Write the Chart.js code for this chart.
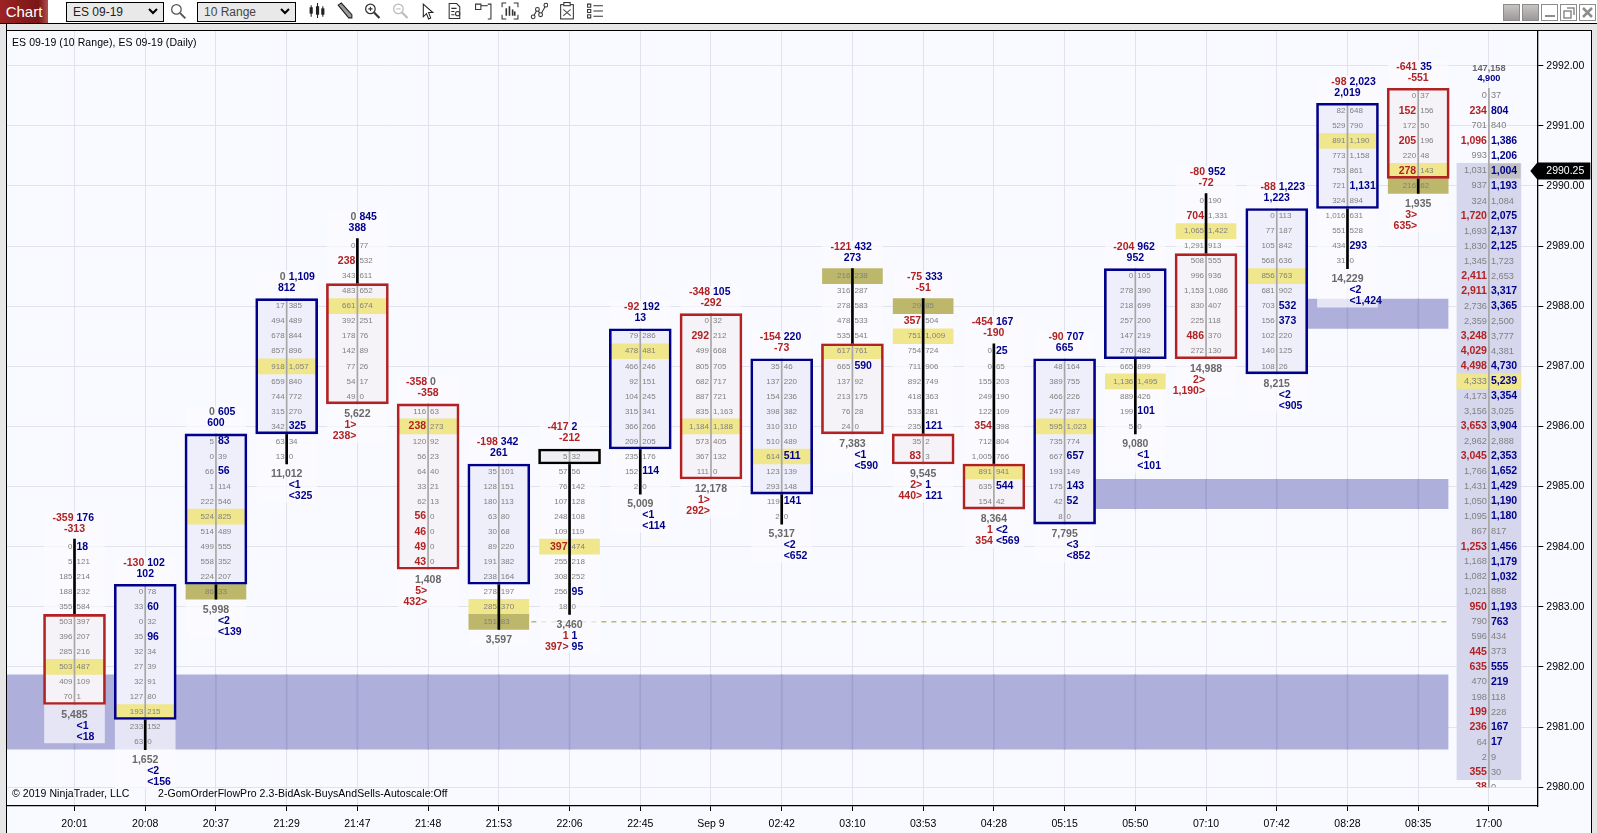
<!DOCTYPE html>
<html>
<head>
<meta charset="utf-8">
<title>ES 09-19 order flow</title>
<script src="https://cdn.jsdelivr.net/npm/chart.js@4/dist/chart.umd.min.js"></script>
<style>
    html, body { margin: 0; padding: 0; width: 1597px; height: 833px; overflow: hidden; background: #f9faff; font-family: "Liberation Sans", Arial, sans-serif; }
    canvas { position: absolute; left: 0; top: 0; }
    .abs { position: absolute; }
    #toolbar { left: 0; top: 0; width: 1597px; height: 23px; background: #fff; border-bottom: 1px solid #000; }
    #strip { left: 0; top: 24px; width: 1597px; height: 6px; background: #e6e6e6; border-bottom: 1px solid #000; }
    #leftStrip { left: 0; top: 24px; width: 6px; height: 809px; background: #e6e6e6; border-right: 1px solid #000; }
    #rightStrip { left: 1591px; top: 30px; width: 5px; height: 803px; background: #e6e6e6; border-left: 1px solid #000; }
    #chartBtn { left: 0; top: 0; width: 48px; height: 23px; background: linear-gradient(90deg, #9c2424, #7a1616 80%, #b05050); color: #fff; font-size: 15px; line-height: 23px; text-align: center; }
    .sel { top: 2px; height: 18px; background: #e9e9e9; border: 1px solid #000; font-size: 12px; line-height: 18px; padding-left: 6px; color: #333; box-sizing: content-box; }
    .sel svg { position: absolute; right: 5px; top: 5px; }
    .icon { top: 2px; width: 18px; height: 18px; }
    .winBtn { top: 4px; width: 15px; height: 15px; border: 1px solid #8c8c8c; box-sizing: content-box; }
    .label { font-size: 10.5px; color: #000; white-space: nowrap; line-height: 12px; letter-spacing: 0.07px; }
</style>
</head>
<body>
<canvas id="flowChart" width="1597" height="833"></canvas>
<div class="abs" id="strip"></div>
<div class="abs" id="leftStrip"></div>
<div class="abs" id="rightStrip"></div>
<div class="abs" id="toolbar">
    <div class="abs" id="chartBtn">Chart</div>
    <div class="abs sel" style="left:66px;width:90px;color:#222">ES 09-19<svg width="10" height="7"><path d="M1 1l4 4 4-4" fill="none" stroke="#000" stroke-width="2"/></svg></div>
    <svg class="abs icon" style="left:169px" viewBox="0 0 17 17"><circle cx="7" cy="7" r="4.5" fill="none" stroke="#555" stroke-width="1.2"/><path d="M10.5 10.5l5 5" stroke="#555" stroke-width="1.8"/></svg>
    <div class="abs sel" style="left:197px;width:91px;color:#444">10 Range<svg width="10" height="7"><path d="M1 1l4 4 4-4" fill="none" stroke="#000" stroke-width="2"/></svg></div>
    <svg class="abs icon" style="left:308px" viewBox="0 0 17 17"><path d="M3 3v11M9 1v14M14 4v10" stroke="#222" stroke-width="1"/><rect x="1.5" y="5" width="3" height="6" fill="#222"/><rect x="7.5" y="4" width="3" height="8" fill="#222"/><rect x="12.5" y="6" width="3" height="6" fill="#222"/></svg>
    <svg class="abs icon" style="left:336px" viewBox="0 0 17 17"><path d="M2 3l3-2 10 11 0 3-3 0z" fill="#999" stroke="#222" stroke-width="1"/></svg>
    <svg class="abs icon" style="left:363px" viewBox="0 0 17 17"><circle cx="7" cy="6.5" r="4.5" fill="none" stroke="#333" stroke-width="1.2"/><path d="M5 6.5h4M7 4.5v4" stroke="#333"/><path d="M10.5 10l5 5" stroke="#333" stroke-width="2"/></svg>
    <svg class="abs icon" style="left:391px" viewBox="0 0 17 17"><circle cx="7" cy="6.5" r="4.5" fill="none" stroke="#bbb" stroke-width="1.2"/><path d="M5 6.5h4" stroke="#bbb"/><path d="M10.5 10l5 5" stroke="#bbb" stroke-width="2"/></svg>
    <svg class="abs icon" style="left:418px" viewBox="0 0 17 17"><path d="M5 2v12l3-3 2 5 2-1-2-5h4z" fill="#fff" stroke="#222"/></svg>
    <svg class="abs icon" style="left:446px" viewBox="0 0 17 17"><path d="M3 1.5h7l3 3v11h-10z" fill="none" stroke="#333"/><path d="M5 6h5M5 9h3M5 12h3" stroke="#333"/><circle cx="11" cy="11" r="2" fill="none" stroke="#333"/></svg>
    <svg class="abs icon" style="left:474px" viewBox="0 0 17 17"><path d="M1.5 2h5v5h-5zM13 2h3v14h-3" fill="none" stroke="#333"/><path d="M6.5 3.5h6.5" stroke="#333"/></svg>
    <svg class="abs icon" style="left:501px" viewBox="0 0 17 17"><path d="M1 5V1h4M12 1h4v4M16 12v4h-4M5 16H1v-4" fill="none" stroke="#333"/><path d="M5 6v7M8 4v9M11 7v6M13 9v4" stroke="#333" stroke-width="1.5"/></svg>
    <svg class="abs icon" style="left:530px" viewBox="0 0 17 17"><path d="M3 14L7 7l3 5 5-9" fill="none" stroke="#333"/><circle cx="3" cy="14" r="1.8" fill="#fff" stroke="#333"/><circle cx="7" cy="7" r="1.8" fill="#fff" stroke="#333"/><circle cx="10" cy="12" r="1.8" fill="#fff" stroke="#333"/><circle cx="15" cy="3" r="1.8" fill="#fff" stroke="#333"/></svg>
    <svg class="abs icon" style="left:558px" viewBox="0 0 17 17"><rect x="2.5" y="2.5" width="12" height="13.5" fill="none" stroke="#333"/><rect x="5.5" y="0.5" width="6" height="3" fill="#fff" stroke="#333"/><path d="M5 7l7 6M12 7l-7 6" stroke="#555"/></svg>
    <svg class="abs icon" style="left:586px" viewBox="0 0 17 17"><path d="M1.5 2h3v3h-3zM1.5 7h3v3h-3zM1.5 12h3v3h-3z" fill="none" stroke="#333"/><path d="M7 3.5h9M7 8.5h9M7 13.5h9" stroke="#333"/></svg>
    <div class="abs winBtn" style="left:1503px;background:linear-gradient(#c8c4c4,#9c9898)"></div>
    <div class="abs winBtn" style="left:1522px;background:linear-gradient(#c8c4c4,#9c9898)"></div>
    <div class="abs winBtn" style="left:1541px;background:#fff"><svg width="15" height="15"><path d="M3 11h10" stroke="#8c8c8c" stroke-width="2"/></svg></div>
    <div class="abs winBtn" style="left:1560px;background:#fff"><svg width="15" height="15"><path d="M3 6h7v7h-7zM6 3h7v7" fill="none" stroke="#8c8c8c" stroke-width="1.5"/></svg></div>
    <div class="abs winBtn" style="left:1579px;background:#fff"><svg width="15" height="15"><path d="M3 3l9 9M12 3l-9 9" stroke="#8c8c8c" stroke-width="2.5"/></svg></div>
</div>
<div class="abs label" style="left:12px;top:36px">ES 09-19 (10 Range), ES 09-19 (Daily)</div>
<div class="abs label" style="left:12px;top:787px">© 2019 NinjaTrader, LLC</div>
<div class="abs label" style="left:158px;top:787px">2-GomOrderFlowPro 2.3-BidAsk-BuysAndSells-Autoscale:Off</div>

<script>
// Axis labels
const times = ['20:01', '20:08', '20:37', '21:29', '21:47', '21:48', '21:53', '22:06', '22:45', 'Sep 9',
    '02:42', '03:10', '03:53', '04:28', '05:15', '05:50', '07:10', '07:42', '08:28', '08:35', '17:00'];
const priceTicks = [2980, 2981, 2982, 2983, 2984, 2985, 2986, 2987, 2988, 2989, 2990, 2991, 2992];

// Candle prices, one entry per range bar
const barHigh = [2984, 2983.25, 2985.75, 2988, 2989, 2986.25, 2985.25, 2985.5, 2987.5, 2987.75,
    2987, 2988.5, 2988, 2987.25, 2987, 2988.5, 2989.75, 2989.5, 2991.25, 2991.5];
const bodyHigh = [2982.75, 2983.25, 2985.75, 2988, 2988.25, 2986.25, 2985.25, 2985.5, 2987.5, 2987.75,
    2987, 2987.25, 2985.75, 2985.25, 2987, 2988.5, 2988.75, 2989.5, 2991.25, 2991.5];
const bodyLow = [2981.5, 2981.25, 2983.5, 2986, 2986.5, 2983.75, 2983.5, 2985.5, 2985.75, 2985.25,
    2985, 2986, 2985.5, 2984.75, 2984.5, 2987.25, 2987.25, 2987, 2989.75, 2990.25];
const barKind = ['down', 'up', 'up', 'up', 'down', 'down', 'up', 'flat', 'up', 'down',
    'up', 'down', 'down', 'down', 'up', 'up', 'down', 'up', 'up', 'down'];
const oliveRow = [null, null, 10, null, null, null, 10, null, null, null,
    null, 0, 0, null, null, null, null, null, null, 6];

// Bid / ask volume per price row, top row first
const bids00 = [0, 5, 185, 188, 355, 503, 396, 285, 503, 409, 70];
const asks00 = [18, 121, 214, 232, 584, 397, 207, 216, 487, 109, 1];
const bids01 = [0, 33, 0, 35, 32, 27, 32, 127, 193, 233, 63];
const asks01 = [78, 60, 32, 96, 34, 39, 91, 80, 215, 152, 0];
const bids02 = [5, 0, 66, 1, 222, 524, 514, 499, 558, 224, 86];
const asks02 = [83, 39, 56, 114, 546, 825, 489, 555, 352, 207, 33];
const bids03 = [17, 494, 678, 857, 918, 659, 744, 315, 342, 63, 13];
const asks03 = [385, 489, 844, 896, 1057, 840, 772, 270, 325, 34, 0];
const bids04 = [0, 238, 343, 483, 661, 392, 178, 142, 77, 54, 49];
const asks04 = [77, 532, 611, 652, 674, 251, 76, 89, 26, 17, 0];
const bids05 = [116, 238, 120, 56, 64, 33, 62, 56, 46, 49, 43];
const asks05 = [63, 273, 92, 23, 40, 21, 13, 0, 0, 0, 0];
const bids06 = [35, 128, 180, 63, 30, 89, 191, 238, 278, 285, 151];
const asks06 = [101, 151, 113, 80, 68, 220, 382, 164, 197, 370, 83];
const bids07 = [5, 57, 76, 107, 248, 109, 397, 255, 308, 256, 18];
const asks07 = [32, 56, 142, 128, 108, 119, 474, 218, 252, 95, 0];
const bids08 = [79, 478, 466, 92, 104, 315, 366, 209, 235, 152, 2];
const asks08 = [286, 481, 246, 151, 245, 341, 266, 205, 176, 114, 0];
const bids09 = [0, 292, 499, 805, 682, 887, 835, 1184, 573, 367, 111];
const asks09 = [32, 212, 668, 705, 717, 721, 1163, 1188, 405, 132, 0];
const bids10 = [35, 137, 154, 398, 310, 510, 614, 123, 293, 119, 2];
const asks10 = [46, 220, 236, 382, 310, 489, 511, 139, 148, 141, 0];
const bids11 = [216, 316, 278, 478, 535, 617, 665, 137, 213, 76, 24];
const asks11 = [238, 287, 583, 533, 541, 761, 590, 92, 175, 28, 0];
const bids12 = [29, 357, 751, 754, 711, 892, 418, 533, 235, 35, 83];
const asks12 = [85, 504, 1009, 724, 906, 749, 363, 281, 121, 2, 3];
const bids13 = [0, 0, 155, 249, 122, 354, 712, 1005, 891, 635, 154];
const asks13 = [25, 65, 203, 190, 109, 398, 804, 766, 941, 544, 42];
const bids14 = [48, 389, 466, 247, 595, 735, 667, 193, 175, 42, 8];
const asks14 = [164, 755, 226, 287, 1023, 774, 657, 149, 143, 52, 0];
const bids15 = [0, 278, 218, 257, 147, 270, 665, 1136, 889, 199, 5];
const asks15 = [105, 390, 699, 200, 219, 482, 899, 1495, 426, 101, 0];
const bids16 = [0, 704, 1065, 1291, 508, 996, 1153, 830, 225, 486, 272];
const asks16 = [190, 1331, 1422, 913, 555, 936, 1086, 407, 118, 370, 130];
const bids17 = [0, 77, 105, 568, 856, 681, 703, 156, 102, 140, 108];
const asks17 = [113, 187, 842, 636, 763, 902, 532, 373, 220, 125, 26];
const bids18 = [82, 529, 891, 773, 753, 721, 324, 1016, 551, 434, 31];
const asks18 = [648, 790, 1190, 1158, 861, 1131, 894, 631, 528, 293, 0];
const bids19 = [0, 152, 172, 205, 220, 278, 216];
const asks19 = [37, 156, 50, 196, 48, 143, 62];

// Bar statistics
const deltaMin = [-359, -130, 0, 0, 0, -358, -198, -417, -92, -348, -154, -121, -75, -454, -90, -204, -80, -88, -98, -641];
const deltaMax = [176, 102, 605, 1109, 845, 0, 342, 2, 192, 105, 220, 432, 333, 167, 707, 962, 952, 1223, 2023, 35];
const deltaEnd = [-313, 102, 600, 812, 388, -358, 261, -212, 13, -292, -73, 273, -51, -190, 665, 952, -72, 1223, 2019, -551];
const volumes = [5485, 1652, 5998, 11012, 5622, 1408, 3597, 3460, 5009, 12178, 5317, 7383, 9545, 8364, 7795, 9080, 14988, 8215, 14229, 1935];
const sellCount = ['', '', '', '', '1>', '5>', '', '1', '', '1>', '', '', '2>', '1', '', '', '2>', '', '', '3>'];
const sellSum = ['', '', '', '', '238>', '432>', '', '397>', '', '292>', '', '', '440>', '354', '', '', '1,190>', '', '', '635>'];
const buyCount = ['<1', '<2', '<2', '<1', '', '', '', '1', '<1', '', '<2', '<1', '1', '<2', '<3', '<1', '', '<2', '<2', ''];
const buySum = ['<18', '<156', '<139', '<325', '', '', '', '95', '<114', '', '<652', '<590', '121', '<569', '<852', '<101', '', '<905', '<1,424', ''];

// Daily profile column (17:00)
const profileHigh = 2991.5;
const profileBids = [0, 234, 701, 1096, 993, 1031, 937, 324, 1720, 1693, 1830, 1345, 2411, 2911, 2736, 2359,
    3248, 4029, 4498, 4333, 4173, 3156, 3653, 2962, 3045, 1766, 1431, 1050, 1095, 867, 1253, 1168,
    1082, 1021, 950, 790, 596, 445, 635, 470, 198, 199, 236, 64, 2, 355, 38];
const profileAsks = [37, 804, 840, 1386, 1206, 1004, 1193, 1084, 2075, 2137, 2125, 1723, 2653, 3317, 3365, 2500,
    3777, 4381, 4730, 5239, 3354, 3025, 3904, 2888, 2353, 1652, 1429, 1190, 1180, 817, 1456, 1179,
    1032, 888, 1193, 763, 434, 373, 555, 219, 118, 228, 167, 17, 9, 30, 0];
const profileVolume = 147158;
const profileDelta = 4900;
const valueAreaHigh = 2990.375;
const valueAreaLow = 2980.125;
const lastPrice = 2990.25;

// Supply / demand zones and the unfinished level
const zoneHigh = [2981.875, 2985.125, 2988.125];
const zoneLow = [2980.625, 2984.625, 2987.625];
const zoneStart = [-0.9615, 14, 17];
const zoneEnd = 19.43;
const levelPrice = 2982.75;
const levelStart = 6.46;
const levelEnd = 19.41;

const allBids = [bids00, bids01, bids02, bids03, bids04, bids05, bids06, bids07, bids08, bids09,
    bids10, bids11, bids12, bids13, bids14, bids15, bids16, bids17, bids18, bids19];
const allAsks = [asks00, asks01, asks02, asks03, asks04, asks05, asks06, asks07, asks08, asks09,
    asks10, asks11, asks12, asks13, asks14, asks15, asks16, asks17, asks18, asks19];

const TICK = 0.25;
const PX_PER_POINT = 60.12;
const PROFILE_X = 20;
const RED = '#b22222';
const BLUE = '#00008b';
const GREY = '#808080';
const DIM = '#696969';
const YELLOW = '#f0e68c';
const OLIVE = '#bdb76b';
const FONT = '"Liberation Sans", Arial, sans-serif';

const boxLine = { up: BLUE, down: RED, flat: '#000000' };
const boxFill = { up: '#eeeffa', down: '#f5f2f8', flat: '#f0f0f4' };

const fmt = v => v.toLocaleString('en-US');
const rowPrice = (i, r) => barHigh[i] - r * TICK;
const lowOf = i => rowPrice(i, allBids[i].length - 1);
const edgeHigh = p => p + TICK / 2;
const edgeLow = p => p - TICK / 2;

// Row with the largest traded volume
function pocRow(bids, asks) {
    let best = 0;
    bids.forEach((b, r) => { if (b + asks[r] > bids[best] + asks[best]) best = r; });
    return best;
}

function rangeBars(order, width, points, extra) {
    return Object.assign({
        type: 'bar', order, data: points, grouped: false, barPercentage: 1, categoryPercentage: 1,
        maxBarThickness: width, borderWidth: 0, borderSkipped: false
    }, extra);
}

function band(order, x0, x1, high, low, color) {
    return {
        type: 'line', order, data: [{ x: x0, y: high }, { x: x1, y: high }],
        fill: { value: low }, backgroundColor: color, borderWidth: 0, pointRadius: 0
    };
}

const barIdx = barHigh.map((_, i) => i);

const datasets = [];
zoneHigh.forEach((h, z) => {
    datasets.push(band(100, zoneStart[z], zoneEnd, h, zoneLow[z], '#afafdc'));
    // Vertical grid stays visible through the zone
    const inside = times.map((_, i) => i).filter(i => i >= zoneStart[z] && i <= zoneEnd);
    datasets.push(rangeBars(98, 1, inside.map(i => ({ x: i, y: [h, zoneLow[z]] })), { backgroundColor: 'rgba(110,110,175,0.22)' }));
});
datasets.push({
    type: 'line', order: 95, data: [{ x: levelStart, y: levelPrice }, { x: levelEnd, y: levelPrice }],
    borderColor: OLIVE, borderWidth: 1.6, borderDash: [5, 5], pointRadius: 0, fill: false
});
// Text keeps a clear backing over grid and zones
datasets.push(rangeBars(90, 60, barIdx.map(i => ({
    x: i,
    y: [barHigh[i] + 35 / PX_PER_POINT, lowOf(i) - ((sellCount[i] || buyCount[i]) ? 46 : 24) / PX_PER_POINT]
})), { backgroundColor: 'rgba(249,250,255,0.73)' }));
// Profile backing
datasets.push(rangeBars(88, 64, [{ x: PROFILE_X, y: [valueAreaHigh, valueAreaLow] }], { backgroundColor: '#d6d7ec' }));
const profilePoc = pocRow(profileBids, profileAsks);
datasets.push(rangeBars(86, 64, [{ x: PROFILE_X, y: [edgeHigh(profileHigh - profilePoc * TICK), edgeLow(profileHigh - profilePoc * TICK)] }], { backgroundColor: YELLOW }));
datasets.push(band(85, PROFILE_X + 0.005, PROFILE_X + 0.45, edgeHigh(lastPrice), edgeLow(lastPrice), '#c0c0c0'));
datasets.push(rangeBars(50, 1, [{ x: PROFILE_X, y: [edgeHigh(profileHigh), 2980] }], { backgroundColor: '#a6a6a6' }));
// Candle bodies
datasets.push(rangeBars(80, 60, barIdx.map(i => ({ x: i, y: [edgeHigh(bodyHigh[i]), edgeLow(bodyLow[i])] })), {
    backgroundColor: barKind.map(k => boxFill[k])
}));
// Highest volume rows and the marked rows
datasets.push(rangeBars(70, 60, barIdx.map(i => {
    const p = rowPrice(i, pocRow(allBids[i], allAsks[i]));
    return { x: i, y: [edgeHigh(p), edgeLow(p)] };
}), { backgroundColor: YELLOW }));
datasets.push(rangeBars(69, 60, barIdx.filter(i => oliveRow[i] !== null).map(i => {
    const p = rowPrice(i, oliveRow[i]);
    return { x: i, y: [edgeHigh(p), edgeLow(p)] };
}), { backgroundColor: OLIVE }));
// Centre line inside the body, thick wick outside it
datasets.push(rangeBars(50, 1, barIdx.map(i => ({ x: i, y: [edgeHigh(bodyHigh[i]), edgeLow(bodyLow[i])] })), { backgroundColor: '#a6a6a6' }));
datasets.push(rangeBars(60, 2, barIdx.filter(i => barHigh[i] > bodyHigh[i]).map(i => ({ x: i, y: [edgeHigh(barHigh[i]), edgeHigh(bodyHigh[i])] })), { backgroundColor: '#000' }));
datasets.push(rangeBars(60, 2, barIdx.filter(i => lowOf(i) < bodyLow[i]).map(i => ({ x: i, y: [edgeLow(bodyLow[i]), edgeLow(lowOf(i))] })), { backgroundColor: '#000' }));
datasets.push(rangeBars(40, 62, barIdx.map(i => ({ x: i, y: [edgeHigh(bodyHigh[i]), edgeLow(bodyLow[i])] })), {
    backgroundColor: 'transparent', borderColor: barKind.map(k => boxLine[k]), borderWidth: 2
}));

function putText(ctx, text, x, y, align, color, size, bold) {
    ctx.font = `${bold ? 'bold ' : ''}${size}px ${FONT}`;
    ctx.textAlign = align;
    ctx.textBaseline = 'middle';
    ctx.fillStyle = color;
    ctx.fillText(text, x, y);
}

// Numbers in the rows. A side is bold when it beats the diagonal neighbour by the ratio
function drawRows(ctx, xs, ys, bids, asks, top, ratio, small) {
    bids.forEach((bid, r) => {
        const y = ys.getPixelForValue(top - r * TICK);
        const x = xs;
        const prevAsk = r > 0 ? asks[r - 1] : null;
        const nextBid = r < bids.length - 1 ? bids[r + 1] : null;
        const ask = asks[r];
        const beats = (a, b) => a > 0 && (ratio === 1 ? a > b : a >= b * ratio);
        const bidBold = prevAsk !== null && beats(bid, prevAsk);
        const askBold = nextBid !== null && beats(ask, nextBid);
        putText(ctx, fmt(bid), x - 2, y, 'right', bidBold ? RED : GREY, bidBold ? 10.5 : small, bidBold);
        putText(ctx, fmt(ask), x + 2, y, 'left', askBold ? BLUE : GREY, askBold ? 10.5 : small, askBold);
    });
}

const footprintText = {
    id: 'footprintText',
    afterDatasetsDraw(chart) {
        const { ctx, scales: { x, y }, chartArea } = chart;
        ctx.save();
        barIdx.forEach(i => {
            const cx = x.getPixelForValue(i);
            const topY = y.getPixelForValue(barHigh[i]);
            const lowY = y.getPixelForValue(lowOf(i));
            drawRows(ctx, cx, y, allBids[i], allAsks[i], barHigh[i], 3, 8);
            putText(ctx, fmt(deltaMin[i]), cx - 1, topY - 29, 'right', deltaMin[i] < 0 ? RED : DIM, 10.5, true);
            putText(ctx, fmt(deltaMax[i]), cx + 2, topY - 29, 'left', deltaMax[i] > 0 ? BLUE : DIM, 10.5, true);
            putText(ctx, fmt(deltaEnd[i]), cx, topY - 18, 'center', deltaEnd[i] < 0 ? RED : BLUE, 10.5, true);
            putText(ctx, fmt(volumes[i]), cx, lowY + 18, 'center', DIM, 10.5, true);
            if (sellCount[i]) putText(ctx, sellCount[i], cx - 1, lowY + 29, 'right', RED, 10.5, true);
            if (sellSum[i]) putText(ctx, sellSum[i], cx - 1, lowY + 40, 'right', RED, 10.5, true);
            if (buyCount[i]) putText(ctx, buyCount[i], cx + 2, lowY + 29, 'left', BLUE, 10.5, true);
            if (buySum[i]) putText(ctx, buySum[i], cx + 2, lowY + 40, 'left', BLUE, 10.5, true);
        });

        // Profile column, its lowest row is cut at the 2980 line
        const px = x.getPixelForValue(PROFILE_X);
        const profileTopY = y.getPixelForValue(profileHigh);
        putText(ctx, fmt(profileVolume), px, profileTopY - 27, 'center', DIM, 9.2, true);
        putText(ctx, fmt(profileDelta), px, profileTopY - 17, 'center', BLUE, 9.2, true);
        ctx.beginPath();
        ctx.rect(chartArea.left, chartArea.top, chartArea.width, y.getPixelForValue(2980) - chartArea.top);
        ctx.clip();
        drawRows(ctx, px, y, profileBids, profileAsks, profileHigh, 1, 9.2);
        ctx.restore();

        // Last price marker on the axis
        const my = y.getPixelForValue(lastPrice);
        ctx.save();
        ctx.fillStyle = '#000';
        ctx.beginPath();
        ctx.moveTo(chartArea.right - 7, my);
        ctx.lineTo(chartArea.right, my - 8.5);
        ctx.lineTo(chartArea.right + 53, my - 8.5);
        ctx.lineTo(chartArea.right + 53, my + 8.5);
        ctx.lineTo(chartArea.right, my + 8.5);
        ctx.closePath();
        ctx.fill();
        putText(ctx, lastPrice.toFixed(2), chartArea.right + 9, my, 'left', '#fff', 10.5, false);
        ctx.restore();
    }
};

document.addEventListener('DOMContentLoaded', () => {
    new Chart(document.getElementById('flowChart').getContext('2d'), {
        type: 'bar',
        data: { datasets },
        plugins: [footprintText],
        options: {
            responsive: false,
            animation: false,
            layout: { padding: { left: 6.5, top: 30.5 } },
            plugins: { legend: { display: false }, tooltip: { enabled: false } },
            events: [],
            scales: {
                x: {
                    type: 'linear',
                    offset: false,
                    min: -0.9615,
                    max: 20.684,
                    afterFit: s => { s.height = 27; },
                    afterBuildTicks: s => { s.ticks = times.map((_, i) => ({ value: i })); },
                    grid: { offset: false, color: '#e2e3ea', tickColor: '#000', tickLength: 5 },
                    border: { color: '#000', width: 1.3 },
                    ticks: {
                        autoSkip: false, maxRotation: 0, padding: 7, color: '#000',
                        font: { family: FONT, size: 10.5 },
                        callback: v => times[v]
                    }
                },
                y: {
                    type: 'linear',
                    position: 'right',
                    min: 2979.6865,
                    max: 2992.5855,
                    afterFit: s => { s.width = 59.7; },
                    afterBuildTicks: s => { s.ticks = priceTicks.map(value => ({ value })); },
                    grid: { color: '#e2e3ea', tickColor: '#000', tickLength: 6 },
                    border: { color: '#000', width: 1.3 },
                    ticks: {
                        padding: 3, color: '#000',
                        font: { family: FONT, size: 10.5 },
                        callback: v => v.toFixed(2)
                    }
                }
            }
        }
    });
});
</script>
</body>
</html>
